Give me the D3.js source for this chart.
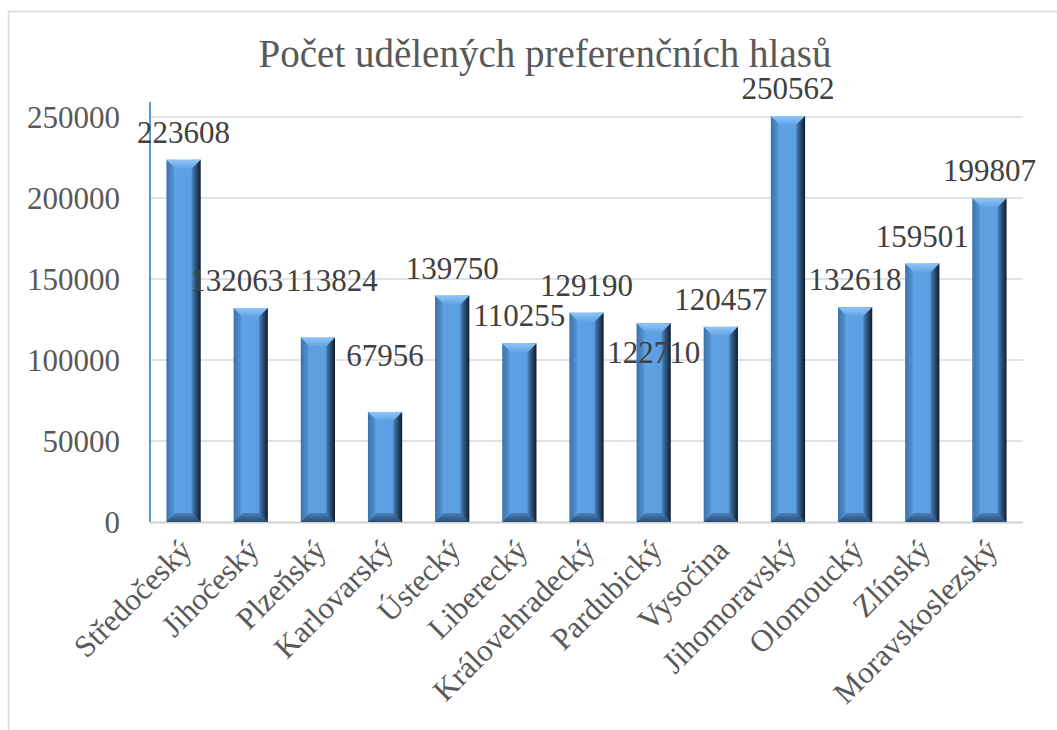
<!DOCTYPE html>
<html>
<head>
<meta charset="utf-8">
<script src="https://cdn.jsdelivr.net/npm/d3@7"></script>
<style>
  body { margin: 0; background: #fff; }
</style>
</head>
<body>
<div id="container"></div>
<script>
// data
var regions = ['Středočeský', 'Jihočeský', 'Plzeňský', 'Karlovarský', 'Ústecký', 'Liberecký',
  'Královehradecký', 'Pardubický', 'Vysočina', 'Jihomoravský', 'Olomoucký', 'Zlínský', 'Moravskoslezský'];
var votes = [223608, 132063, 113824, 67956, 139750, 110255, 129190, 122710, 120457, 250562, 132618, 159501, 199807];
var yTicks = [0, 50000, 100000, 150000, 200000, 250000];
var title = 'Počet udělených preferenčních hlasů';

var width = 1057, height = 730;
var margin = { left: 150, right: 34, top: 117, bottom: 208 };
var serif = "'Liberation Serif', Tinos, 'Times New Roman', serif";

var svg = d3.select('#container')
  .append('svg')
  .attr('width', width)
  .attr('height', height)
  .style('font-family', serif);

// chart area border
svg.append('rect')
  .attr('x', 8.5).attr('y', 11.5)
  .attr('width', width + 20).attr('height', height + 20)
  .attr('fill', 'none')
  .attr('stroke', '#d9d9d9')
  .attr('stroke-width', 1.5);

var x = d3.scaleBand()
  .domain(regions)
  .range([margin.left, width - margin.right])
  .paddingInner(0.49)
  .paddingOuter(0.245);

var y = d3.scaleLinear()
  .domain([0, 250000])
  .range([height - margin.bottom, margin.top]);

// gradients for the bevelled bars
var defs = svg.append('defs');
var sideGrad = defs.append('linearGradient').attr('id', 'side')
  .attr('x1', 0).attr('x2', 1).attr('y1', 0).attr('y2', 0);
sideGrad.append('stop').attr('offset', '0').attr('stop-color', '#3d72aa');
sideGrad.append('stop').attr('offset', '0.2').attr('stop-color', '#5190cf');
sideGrad.append('stop').attr('offset', '0.24').attr('stop-color', '#5fa2e4');
sideGrad.append('stop').attr('offset', '0.72').attr('stop-color', '#5c9ee0');
sideGrad.append('stop').attr('offset', '0.78').attr('stop-color', '#3e70a4');
sideGrad.append('stop').attr('offset', '1').attr('stop-color', '#0e1c2c');

var topGrad = defs.append('linearGradient').attr('id', 'topbevel')
  .attr('x1', 0).attr('x2', 0).attr('y1', 0).attr('y2', 1);
topGrad.append('stop').attr('offset', '0').attr('stop-color', '#90c6f6');
topGrad.append('stop').attr('offset', '1').attr('stop-color', '#5fa2e4');

var botGrad = defs.append('linearGradient').attr('id', 'botbevel')
  .attr('x1', 0).attr('x2', 0).attr('y1', 0).attr('y2', 1);
botGrad.append('stop').attr('offset', '0').attr('stop-color', '#4a80bb');
botGrad.append('stop').attr('offset', '1').attr('stop-color', '#2a4c72');

// gridlines
svg.append('g')
  .selectAll('line')
  .data(yTicks.slice(1))
  .join('line')
  .attr('x1', margin.left)
  .attr('x2', width - margin.right)
  .attr('y1', d => y(d))
  .attr('y2', d => y(d))
  .attr('stroke', '#d9d9d9')
  .attr('stroke-width', 1.5);

// baseline
svg.append('line')
  .attr('x1', margin.left).attr('x2', width - margin.right)
  .attr('y1', y(0) + 0.5).attr('y2', y(0) + 0.5)
  .attr('stroke', '#d0d0d0')
  .attr('stroke-width', 2);

// y labels
svg.append('g')
  .selectAll('text')
  .data(yTicks)
  .join('text')
  .attr('x', 120)
  .attr('y', d => y(d))
  .attr('dy', '0.34em')
  .attr('text-anchor', 'end')
  .attr('font-size', 31)
  .attr('fill', '#595959')
  .text(d => d);

// bars
var bevel = 9;
var bars = svg.append('g')
  .selectAll('g')
  .data(votes)
  .join('g');

bars.append('rect')
  .attr('x', (d, i) => x(regions[i]))
  .attr('y', d => y(d))
  .attr('width', x.bandwidth())
  .attr('height', d => y(0) - y(d))
  .attr('fill', 'url(#side)');

bars.append('path')
  .attr('fill', 'url(#topbevel)')
  .attr('d', (d, i) => {
    var x0 = x(regions[i]), x1 = x0 + x.bandwidth(), t = y(d);
    return `M${x0},${t}L${x1},${t}L${x1 - bevel},${t + bevel}L${x0 + bevel},${t + bevel}Z`;
  });

bars.append('path')
  .attr('fill', 'url(#botbevel)')
  .attr('d', (d, i) => {
    var x0 = x(regions[i]), x1 = x0 + x.bandwidth(), b = y(0);
    return `M${x0 + bevel},${b - bevel}L${x1 - bevel},${b - bevel}L${x1},${b}L${x0},${b}Z`;
  });

// left axis line (blue)
svg.append('line')
  .attr('x1', margin.left).attr('x2', margin.left)
  .attr('y1', 102).attr('y2', y(0))
  .attr('stroke', '#5b9bd5')
  .attr('stroke-width', 2);

// value labels, a few of them were moved by hand in the original
var labelShift = {
  'Jihočeský': [-14, 0],
  'Plzeňský': [14, -30],
  'Karlovarský': [0, -29],
  'Pardubický': [0, 57]
};
svg.append('g')
  .selectAll('text')
  .data(votes)
  .join('text')
  .attr('x', (d, i) => x(regions[i]) + x.bandwidth() / 2 + (labelShift[regions[i]] || [0, 0])[0])
  .attr('y', (d, i) => y(d) - 17 + (labelShift[regions[i]] || [0, 0])[1])
  .attr('text-anchor', 'middle')
  .attr('font-size', 31)
  .attr('fill', '#404040')
  .text(d => d);

// category labels
svg.append('g')
  .selectAll('text')
  .data(regions)
  .join('text')
  .attr('text-anchor', 'end')
  .attr('font-size', 31)
  .attr('fill', '#595959')
  .attr('transform', d => `translate(${x(d) + x.bandwidth() / 2 + 10},${y(0) + 30}) rotate(-45)`)
  .text(d => d);

// title
svg.append('text')
  .attr('x', 545)
  .attr('y', 67)
  .attr('text-anchor', 'middle')
  .attr('font-size', 39)
  .attr('fill', '#595959')
  .text(title);
</script>
</body>
</html>
